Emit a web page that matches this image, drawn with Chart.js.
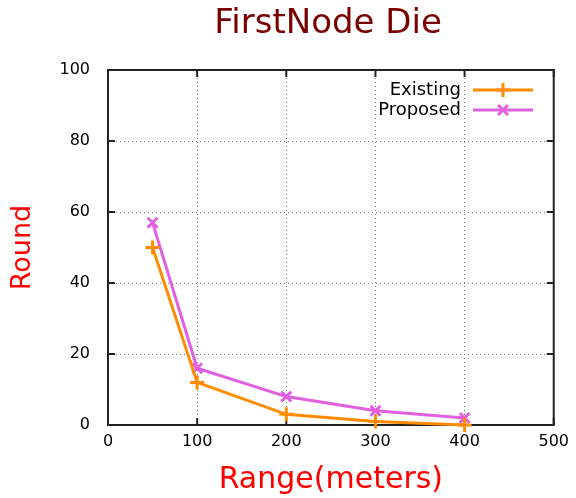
<!DOCTYPE html>
<html><head><meta charset="utf-8">
<script src="https://cdn.jsdelivr.net/npm/chart.js@4/dist/chart.umd.min.js"></script>
<style>html,body{margin:0;padding:0;background:#fff}#wrap{width:576px;height:498px}</style>
</head><body><div id="wrap"><canvas id="c" width="576" height="498"></canvas></div>
<script>
const ranges = [50, 100, 200, 300, 400];
const existing = [50, 12, 3, 1, 0];
const proposed = [57, 16, 8, 4, 2];
const xTicks = [0, 100, 200, 300, 400, 500];
const yTicks = [0, 20, 40, 60, 80, 100];
const FONT = "'DejaVu Sans', Verdana, sans-serif";

const frame = {
  id: 'frame',
  beforeDatasetsDraw(chart) {
    const {ctx, chartArea: a, scales} = chart;
    ctx.save();
    ctx.strokeStyle = '#222';
    ctx.lineWidth = 2;
    ctx.strokeRect(a.left, a.top, a.right - a.left, a.bottom - a.top);
    const L = 7;
    xTicks.forEach(v => {
      const x = scales.x.getPixelForValue(v);
      ctx.beginPath(); ctx.moveTo(x, a.bottom); ctx.lineTo(x, a.bottom - L);
      ctx.moveTo(x, a.top); ctx.lineTo(x, a.top + L); ctx.stroke();
    });
    yTicks.forEach(v => {
      const y = scales.y.getPixelForValue(v);
      ctx.beginPath(); ctx.moveTo(a.left, y); ctx.lineTo(a.left + L, y);
      ctx.moveTo(a.right, y); ctx.lineTo(a.right - L, y); ctx.stroke();
    });
    ctx.restore();
  },
  afterDraw(chart) {
    const {ctx} = chart;
    ctx.save();
    ctx.fillStyle = '#7a0000';
    ctx.font = '34px ' + FONT;
    ctx.textAlign = 'center';
    ctx.textBaseline = 'alphabetic';
    ctx.fillText('FirstNode Die', 328, 33);
    ctx.font = '18px ' + FONT;
    ctx.textAlign = 'right';
    ctx.textBaseline = 'middle';
    chart.data.datasets.forEach((ds, i) => {
      const y = 90 + i * 20;
      ctx.fillStyle = '#000';
      ctx.fillText(ds.label, 461, y);
      ctx.strokeStyle = ds.borderColor;
      ctx.lineWidth = 3;
      ctx.beginPath(); ctx.moveTo(473, y); ctx.lineTo(533, y); ctx.stroke();
      Chart.helpers.drawPoint(ctx, {pointStyle: ds.pointStyle, radius: ds.pointRadius, borderWidth: 3}, 503, y);
    });
    ctx.restore();
  }
};

new Chart(document.getElementById('c'), {
  type: 'line',
  data: {
    datasets: [
      { label: 'Existing', data: ranges.map((r, i) => ({x: r, y: existing[i]})),
        borderColor: '#ff8c00', backgroundColor: '#ff8c00', borderWidth: 3,
        pointStyle: 'cross', pointRadius: 7, pointBorderWidth: 3, clip: 10, tension: 0 },
      { label: 'Proposed', data: ranges.map((r, i) => ({x: r, y: proposed[i]})),
        borderColor: '#e060e0', backgroundColor: '#e060e0', borderWidth: 3,
        pointStyle: 'crossRot', pointRadius: 7, pointBorderWidth: 3, clip: 10, tension: 0 }
    ]
  },
  options: {
    responsive: false, animation: false,
    layout: { padding: { top: 70, right: 19, left: 0, bottom: 0 } },
    plugins: { legend: { display: false }, title: { display: false }, tooltip: { enabled: false } },
    scales: {
      x: {
        type: 'linear', min: 0, max: 500,
        afterBuildTicks: s => { s.ticks = xTicks.map(v => ({value: v})); },
        afterFit: s => { s.height = 73; },
        border: { display: false, dash: [1, 3] },
        grid: { color: '#777', lineWidth: 1, drawTicks: false },
        ticks: { color: '#000', font: { family: FONT, size: 16 }, padding: 7, maxRotation: 0 },
        title: { display: true, text: 'Range(meters)', color: '#ff0000', font: { family: FONT, size: 30 }, padding: { top: 0, bottom: 0 } }
      },
      y: {
        min: 0, max: 100,
        afterBuildTicks: s => { s.ticks = yTicks.map(v => ({value: v})); },
        afterFit: s => { s.width = 108; },
        border: { display: false, dash: [1, 3] },
        grid: { color: '#777', lineWidth: 1, drawTicks: false },
        ticks: { color: '#000', font: { family: FONT, size: 16 }, padding: 18 },
        title: { display: true, text: 'Round', color: '#ff0000', font: { family: FONT, size: 27 }, padding: { top: 7, bottom: 0 } }
      }
    }
  },
  plugins: [frame]
});
</script></body></html>
